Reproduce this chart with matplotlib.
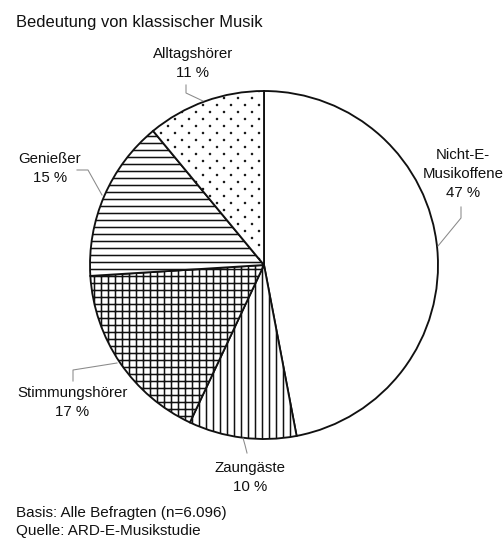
import numpy as np
import matplotlib
matplotlib.use('Agg')
import matplotlib.pyplot as plt
from matplotlib import hatch as mhatch

# daten
kategorien = [['Nicht-E-', 'Musikoffene'], ['Zaungäste'], ['Stimmungshörer'], ['Genießer'], ['Alltagshörer']]
anteile = [47, 10, 17, 15, 11]
muster = ['', '||', '++', '--', '.']

titel = 'Bedeutung von klassischer Musik'
fussnote = ['Basis: Alle Befragten (n=6.096)', 'Quelle: ARD-E-Musikstudie']


# punktraster wie im original: doppelt so viele zeilen, kleinere punkte
class Punkte(mhatch.SmallFilledCircles):
    size = 0.07

    def __init__(self, hatch, density):
        super().__init__(hatch, density)
        n = self.num_rows
        self.pos = []
        if n:
            for row in range(2 * n + 1):
                if row % 2 == 0:
                    cols = np.linspace(0, 1, n + 1)
                else:
                    cols = np.linspace(0.5 / n, 1 - 0.5 / n, n)
                for c in cols:
                    self.pos.append((c, row / (2.0 * n)))
        self.num_vertices = len(self.pos) * len(self.shape_vertices)

    def set_vertices_and_codes(self, vertices, codes):
        offset = 1.0 / self.num_rows
        sv = self.shape_vertices * offset * self.size * 0.5
        vparts = [sv + p for p in self.pos]
        cparts = [self.shape_codes for p in self.pos]
        np.concatenate(vparts, out=vertices)
        np.concatenate(cparts, out=codes)


mhatch._hatch_types = [Punkte if t is mhatch.SmallFilledCircles else t
                       for t in mhatch._hatch_types]

W, H = 503, 538
DPI = 84
PT = 72.0 / DPI
plt.rcParams['font.family'] = ['Liberation Sans', 'DejaVu Sans']
plt.rcParams['hatch.linewidth'] = 1.3

fig = plt.figure(figsize=(W / DPI, H / DPI), dpi=DPI)
ax = fig.add_axes([0, 0, 1, 1])

cx, cy, r = 264, 265, 174
wedges, _ = ax.pie(anteile, startangle=90, counterclock=False,
                   center=(cx, H - cy), radius=r,
                   colors=['white'] * len(anteile), hatch=muster,
                   wedgeprops=dict(edgecolor='#111111', linewidth=1.6))

ax.set_xlim(0, W)
ax.set_ylim(0, H)
ax.set_aspect('equal')
ax.axis('off')

# beschriftungen: mitte x, grundlinie der ersten zeile (pixel von oben)
lab_pos = [(463, 159), (250, 472), (72.5, 397), (50, 163), (193, 58)]
leader = [
    [(461, 207), (461, 218), (438, 246)],
    [(247, 453), (245, 445), (243, 438)],
    [(73, 381), (73, 370), (117, 363)],
    [(77, 170), (88, 170), (102, 195)],
    [(186, 85), (186, 93), (203, 101)],
]
zeile = 19
for i, zeilen in enumerate(kategorien):
    x, y = lab_pos[i]
    alle = zeilen + [str(anteile[i]) + ' %']
    for k, t in enumerate(alle):
        ax.text(x, H - (y + k * zeile), t, ha='center', va='baseline',
                fontsize=15 * PT, color='#111111')
    xs = [p[0] for p in leader[i]]
    ys = [H - p[1] for p in leader[i]]
    ax.plot(xs, ys, color='#8a8a8a', linewidth=0.9)

ax.text(16, H - 27.5, titel, ha='left', va='baseline', fontsize=16.5 * PT, color='#111111')
ax.text(16, H - 517, fussnote[0], ha='left', va='baseline', fontsize=15.3 * PT, color='#111111')
ax.text(16, H - 535, fussnote[1], ha='left', va='baseline', fontsize=15.3 * PT, color='#111111')

fig.savefig('out.png', dpi=DPI, facecolor='white')
